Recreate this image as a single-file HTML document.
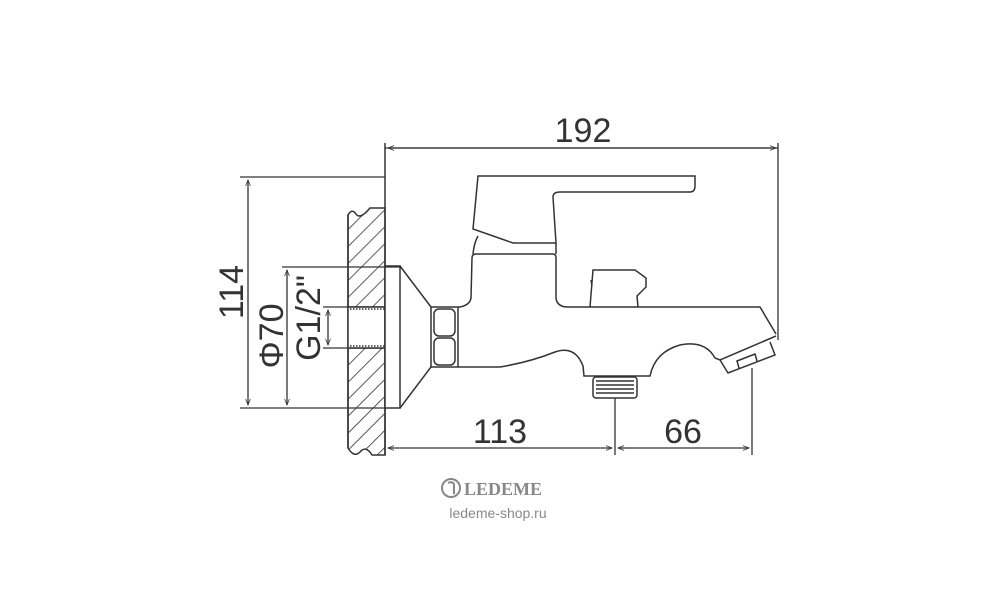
<!DOCTYPE html>
<html><head><style>
body{margin:0;background:#fff;width:1000px;height:600px;overflow:hidden}
svg text{font-family:"Liberation Sans",sans-serif;fill:#333}
</style></head><body>
<svg width="1000" height="600" viewBox="0 0 1000 600" xmlns="http://www.w3.org/2000/svg">
<defs>
<pattern id="h" width="12" height="12" patternUnits="userSpaceOnUse" patternTransform="rotate(45)">
<line x1="0" y1="0" x2="0" y2="12" stroke="#333" stroke-width="1.6"/>
</pattern>
<marker id="a" viewBox="0 0 10 10" refX="10" refY="5" markerWidth="10" markerHeight="6" orient="auto-start-reverse" markerUnits="userSpaceOnUse">
<path d="M0,1 L10,5 L0,9" fill="none" stroke="#333" stroke-width="1.3"/>
</marker>
</defs>
<g stroke="#333" stroke-width="1.5" fill="none">
<!-- wall -->
<path d="M348,215 Q352,208 356,214 Q360,220 370,208 L385,208 L385,307 L348,307 Z" fill="url(#h)"/>
<path d="M348,348 L385,348 L385,455 L372,455 Q366,445 360,452 Q354,458 348,448 Z" fill="url(#h)"/>
<path d="M348,215 L348,448"/>
<!-- pipe -->
<rect x="348" y="307" width="37" height="41" fill="#fff"/>
<path d="M350,309 L385,309 M350,346 L385,346" stroke-dasharray="1.5,1.5"/>
<!-- vertical ref line -->
<path d="M385,143 L385,455"/>
<!-- flange -->
<rect x="385" y="266" width="15" height="142" fill="#fff"/>
<path d="M400,266 L431,307 L431,367 L400,408"/>
<!-- nut -->
<path d="M431,307 L460,307 M431,367 L460,367 M458,307 L458,367"/>
<rect x="434" y="309" width="21" height="27" rx="5"/>
<rect x="434" y="338" width="21" height="27" rx="5"/>
<!-- body -->
<path d="M460,307 Q470,305 471,298 L472,258 Q472,254 476,254 L553,254 Q556,254 556,258 L556,298 Q557,307 568,307 L760,307 L776,334"/>
<path d="M460,367 L500,367 Q530,362 555,352 Q575,345 583,366 L584,376 L650,376 Q655,352 680,345 Q705,340 715,358"/>
<!-- lever -->
<path d="M478,176 L473,229 L513,243 L556,243 L553,197 Q553,192 560,192 L690,192 Q695,192 695,186 L695,176 Z"/>
<path d="M473,254 Q474,243 478,236 M556,243 L556,254"/>
<!-- diverter -->
<path d="M590,307 L593,270 L635,270 L646,278 L646,287 L637,296 L638,307 M592,286 L591,280"/>
<!-- spout nozzle -->
<path d="M715,358 L720,360 L776,336 M720,360 L728,373 L775,355 L770,342 M739,368 L737,361 L755,354 L757,361"/>
<!-- thread -->
<rect x="593" y="377" width="44" height="21" rx="3"/>
<path d="M596,381 L634,381 M596,385 L634,385 M596,389 L634,389 M596,393 L634,393"/>
</g>
<!-- dimension lines -->
<g stroke="#333" stroke-width="1.3" fill="none">
<path d="M385,148 L778,148 M778,143 L778,340"/>
<path d="M388,148 L776,148" marker-start="url(#a)" marker-end="url(#a)"/>
<path d="M240,177 L385,177 M240,408 L385,408 M282,267 L400,267"/>
<path d="M248,180 L248,405" marker-start="url(#a)" marker-end="url(#a)"/>
<path d="M287,270 L287,405" marker-start="url(#a)" marker-end="url(#a)"/>
<path d="M323,307 L348,307 M323,348 L348,348"/>
<path d="M328,310 L328,345" marker-start="url(#a)" marker-end="url(#a)"/>
<path d="M615,398 L615,455 M752,368 L752,455"/>
<path d="M388,448 L612,448" marker-start="url(#a)" marker-end="url(#a)"/>
<path d="M618,448 L749,448" marker-start="url(#a)" marker-end="url(#a)"/>
</g>
<text x="583" y="142" font-size="34" text-anchor="middle">192</text>
<text x="500" y="443" font-size="34" text-anchor="middle">113</text>
<text x="683" y="443" font-size="34" text-anchor="middle">66</text>
<text transform="translate(243,292) rotate(-90)" font-size="34" text-anchor="middle">114</text>
<text transform="translate(283,336) rotate(-90)" font-size="34" text-anchor="middle">Φ70</text>
<text transform="translate(320,318) rotate(-90)" font-size="34" text-anchor="middle">G1/2"</text>
<!-- logo -->
<circle cx="451" cy="488" r="9" fill="none" stroke="#888" stroke-width="2"/>
<path d="M448,483 Q452,481 454,484 L454,494" fill="none" stroke="#888" stroke-width="2"/>
<text x="464" y="495" font-size="18" font-weight="bold" style="font-family:'Liberation Serif',serif;fill:#888">LEDEME</text>
<text x="498" y="518" font-size="14" text-anchor="middle" style="fill:#888">ledeme-shop.ru</text>
</svg>
</body></html>
